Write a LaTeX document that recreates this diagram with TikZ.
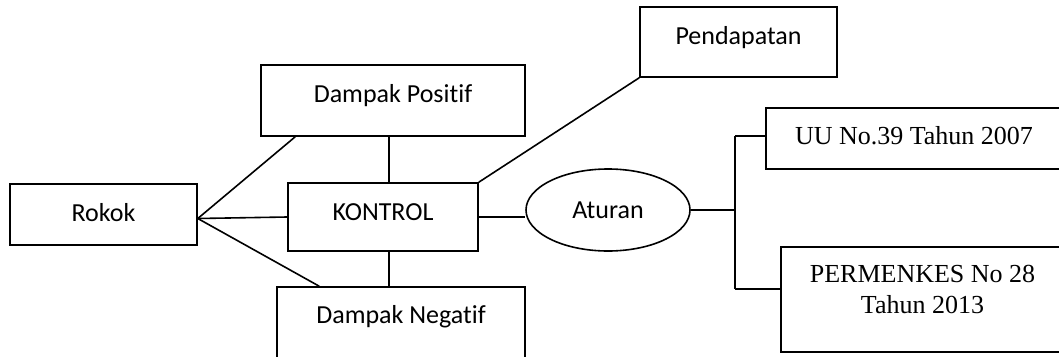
\documentclass[tikz,border=0pt]{standalone}
\usepackage{fontspec}
\setmainfont[Ligatures=NoCommon]{Carlito}
\newfontfamily\timesfont{Liberation Serif}
\usetikzlibrary{shapes.geometric,calc}

\begin{document}
\begin{tikzpicture}[x=1pt, y=-1pt, line width=1.6pt,
  box/.style={draw, rectangle, inner sep=0pt, font=\fontsize{26}{30}\selectfont},
  rule/.style={font=\timesfont\fontsize{26}{31}\selectfont}]
  % Frame of the page
  \clip (0,0) rectangle (1059,356);

  % Boxes
  \node[box, minimum width=187pt, text height=37pt, text depth=24pt] (rokok) at (103.5,214.5) {Rokok};
  \node[box, minimum width=264pt, text height=37pt, text depth=34pt] (dpos) at (393,100.5) {Dampak Positif};
  \node[box, minimum width=190pt, text height=37pt, text depth=31pt] (kontrol) at (383,217) {KONTROL};
  \node[box, minimum width=248pt, text height=36pt, text depth=39pt] (dneg) at (401,324.5) {Dampak Negatif};
  \node[box, minimum width=197pt, text height=37pt, text depth=33pt] (pend) at (738.5,42) {Pendapatan};
  \node[draw, ellipse, inner sep=0pt, minimum width=164pt, minimum height=82pt,
        font=\fontsize{26}{30}\selectfont] (aturan) at (608,210) {Aturan};

  % Rules
  \node[box, rule, minimum width=296pt, text height=36pt, text depth=25pt] (uu) at (914,138.5) {UU No.39 Tahun 2007};
  \node[box, rule, align=center, minimum width=283pt, text height=66pt, text depth=39pt] (perm) at (922.5,299.5) {PERMENKES No 28\\Tahun 2013};

  % Lines from Rokok
  \coordinate (hub) at ($(rokok.east)+(0,4)$);
  \draw (hub) -- ($(dpos.south west)+(35,0)$);
  \draw (hub) -- (kontrol.west);
  \draw (hub) -- ($(dneg.north west)+(43,0)$);

  % Lines round KONTROL
  \coordinate (vx) at ($(dpos.south west)+(129,0)$);
  \draw (vx) -- (vx |- kontrol.north);
  \draw (vx |- kontrol.south) -- (vx |- dneg.north);
  \draw (kontrol.north east) -- (pend.south west);
  \draw (kontrol.east) -- (kontrol.east -| aturan.west);

  % Bracket to the rules
  \coordinate (brtop) at (735,136);
  \coordinate (brbot) at (735,289);
  \draw (aturan.east) -- (aturan.east -| brtop);
  \draw (brtop) -- (brbot);
  \draw (brtop) -- (brtop -| uu.west);
  \draw (brbot) -- (brbot -| perm.west);
\end{tikzpicture}
\end{document}
